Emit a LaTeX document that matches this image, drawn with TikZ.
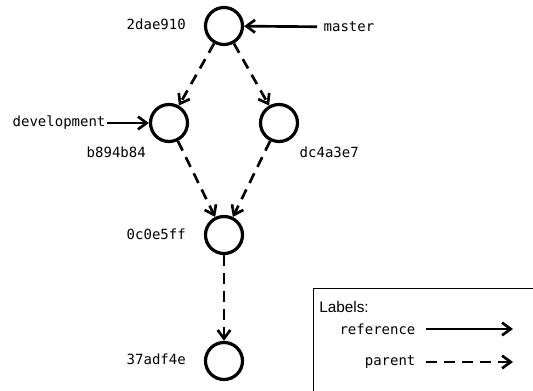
\documentclass[tikz,border=0pt]{standalone}
\usepackage{fontspec}
\setmainfont{Liberation Sans}
\setmonofont{DejaVu Sans Mono}
\usetikzlibrary{arrows.meta}

\begin{document}
\begin{tikzpicture}[
    x=0.75pt, y=-0.75pt,
    commit/.style={
        circle,
        draw,
        line width=2.4pt,
        minimum size=27.75pt,
        inner sep=0pt
    },
    hash/.style={
        font=\fontsize{10.5}{12}\selectfont\ttfamily,
        anchor=east,
        inner sep=0pt
    },
    branch/.style={
        font=\fontsize{10.5}{12}\selectfont\ttfamily,
        inner sep=1pt
    },
    reference/.style={
        line width=2pt,
        -{Straight Barb[length=6.5pt, width=9.5pt, line width=2pt]}
    },
    parent/.style={
        reference,
        dash pattern=on 8pt off 5.5pt
    }
]

% Canvas
\useasboundingbox (0, 0) rectangle (533, 391);

% ========== COMMITS ==========

\node[commit] (c2dae) at (224, 26) {};
\node[commit] (cb894) at (169, 123) {};
\node[commit] (cdc4a) at (279, 123) {};
\node[commit] (c0c0e) at (224, 235) {};
\node[commit] (c37ad) at (224, 361) {};

% ========== HASHES ==========

\node[hash] (h2dae) at (186, 24) {2dae910};
\node[hash] (hb894) at (146, 152) {b894b84};
\node[hash] (hdc4a) at (359, 152) {dc4a3e7};
\node[hash] (h0c0e) at (186, 234) {0c0e5ff};
\node[hash] (h37ad) at (186, 359) {37adf4e};

% ========== BRANCHES ==========

\node[branch, anchor=west, outer sep=4pt] (master) at (317, 27) {master};
\node[branch, anchor=east] (development) at (107, 123) {development};

\draw[reference] (master) -- (c2dae);
\draw[reference] (development) -- (cb894);

% ========== PARENTS ==========

\draw[parent] (c2dae) -- (cb894);
\draw[parent] (c2dae) -- (cdc4a);
\draw[parent] (cb894) -- (c0c0e);
\draw[parent] (cdc4a) -- (c0c0e);
\draw[parent] (c0c0e) -- (c37ad);

% ========== LEGEND ==========

\draw[line width=0.75pt] (313, 289) rectangle (560, 420);
\node[anchor=west, inner sep=0pt, font=\fontsize{11.5}{13}\selectfont] (title) at (319, 307) {Labels:};

\node[branch, anchor=east] (lref) at (417, 329) {reference};
\node[branch, anchor=east] (lpar) at (417, 362) {parent};

\coordinate (refend) at (513, 329);
\coordinate (parend) at (513, 362);

\draw[reference] (lref.east) ++(9, 0) coordinate (refstart) -- (refend);
\draw[parent] (lpar.east) ++(9, 0) coordinate (parstart) -- (parend);

\end{tikzpicture}
\end{document}
